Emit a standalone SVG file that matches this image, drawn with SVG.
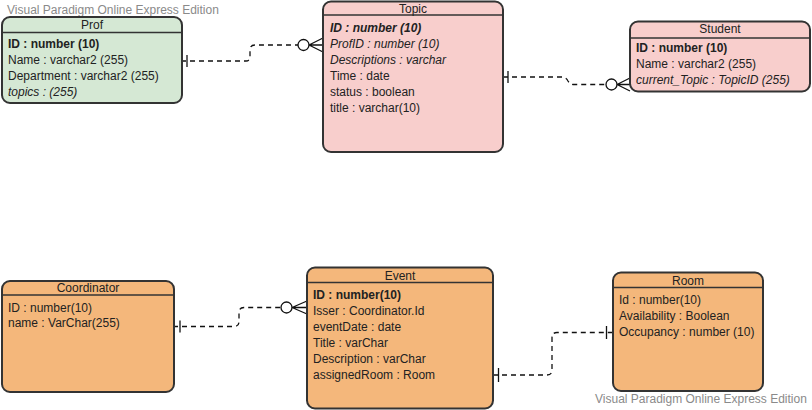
<svg xmlns="http://www.w3.org/2000/svg" width="812" height="410" viewBox="0 0 812 410">
<style>
text{font-family:"Liberation Sans",Arial,sans-serif;font-size:12px;fill:#222}
.t{text-anchor:middle}
.b{font-weight:bold}
.i{font-style:italic}
.wm{fill:#8a8a8a}
.box{stroke:#333;stroke-width:2}
.hl{stroke:#333;stroke-width:1.5}
.green{fill:#d5e8d4}
.pink{fill:#f8cecc}
.orange{fill:#f4b77b}
.c{fill:none;stroke:#111;stroke-width:1.3;stroke-dasharray:5,4}
.m{fill:none;stroke:#111;stroke-width:1.3}
.mc{fill:#fff;stroke:#111;stroke-width:1.3}
</style>
<rect width="812" height="410" fill="#fff"/>
<text class="wm" x="7" y="14">Visual Paradigm Online Express Edition</text>
<text class="wm" x="595" y="403">Visual Paradigm Online Express Edition</text>

<g id="connectors">
  <g id="prof-topic">
    <path class="c" d="M181,61 H246 Q250,61 250,56 V50 Q250,45 255,45 H298"/>
    <path class="m" d="M187,55 V67"/>
    <circle class="mc" cx="303.5" cy="45" r="5.5"/>
    <path class="m" d="M309,45 L323,38 M309,45 H323 M309,45 L323,52"/>
  </g>
  <g id="topic-student">
    <path class="c" d="M503,77 H562 Q566,77 568,81 Q570,84.5 574,84.5 H606"/>
    <path class="m" d="M508,71 V83"/>
    <circle class="mc" cx="611.5" cy="84.5" r="5.5"/>
    <path class="m" d="M617,84.5 L630,78 M617,84.5 H630 M617,84.5 L630,91"/>
  </g>
  <g id="coordinator-event">
    <path class="c" d="M173,326.5 H234 Q239,326.5 239,321.5 V312.5 Q239,307.5 244,307.5 H281"/>
    <path class="m" d="M180,320.5 V332.5"/>
    <circle class="mc" cx="286.5" cy="307.5" r="5.5"/>
    <path class="m" d="M292,307.5 L307,301 M292,307.5 H307 M292,307.5 L307,314"/>
  </g>
  <g id="event-room">
    <path class="c" d="M493,375 H547 Q552,375 552,370 V338 Q552,332.5 557,332.5 H613"/>
    <path class="m" d="M498.5,368 V382"/>
    <path class="m" d="M606.5,326 V339"/>
  </g>
</g>

<g id="Prof">
  <rect class="box green" x="2" y="17" width="180" height="86" rx="8"/>
  <line class="hl" x1="2" y1="32.5" x2="182" y2="32.5"/>
  <text class="t" x="92" y="29">Prof</text>
  <text class="b" x="8" y="48">ID : number (10)</text>
  <text x="8" y="64">Name : varchar2 (255)</text>
  <text x="8" y="80">Department : varchar2 (255)</text>
  <text class="i" x="8" y="96">topics : (255)</text>
</g>

<g id="Topic">
  <rect class="box pink" x="323" y="1.5" width="180" height="150.5" rx="8"/>
  <line class="hl" x1="323" y1="15" x2="503" y2="15"/>
  <text class="t" x="413" y="13">Topic</text>
  <text class="b i" x="330" y="32">ID : number (10)</text>
  <text class="i" x="330" y="48">ProfID : number (10)</text>
  <text class="i" x="330" y="64">Descriptions : varchar</text>
  <text x="330" y="80">Time : date</text>
  <text x="330" y="96">status : boolean</text>
  <text x="330" y="112">title : varchar(10)</text>
</g>

<g id="Student">
  <rect class="box pink" x="630" y="21.5" width="180" height="70" rx="8"/>
  <line class="hl" x1="630" y1="38" x2="810" y2="38"/>
  <text class="t" x="720" y="33">Student</text>
  <text class="b" x="636" y="52">ID : number (10)</text>
  <text x="636" y="68">Name : varchar2 (255)</text>
  <text class="i" x="636" y="84">current_Topic : TopicID (255)</text>
</g>

<g id="Coordinator">
  <rect class="box orange" x="2" y="281" width="172" height="111" rx="8"/>
  <line class="hl" x1="2" y1="295" x2="174" y2="295"/>
  <text class="t" x="88" y="291.5">Coordinator</text>
  <text x="8" y="311.5">ID : number(10)</text>
  <text x="8" y="327">name : VarChar(255)</text>
</g>

<g id="Event">
  <rect class="box orange" x="307" y="267.5" width="186" height="141" rx="8"/>
  <line class="hl" x1="307" y1="282.5" x2="493" y2="282.5"/>
  <text class="t" x="400" y="280">Event</text>
  <text class="b" x="313" y="299">ID : number(10)</text>
  <text x="313" y="315">Isser : Coordinator.Id</text>
  <text x="313" y="331">eventDate : date</text>
  <text x="313" y="347">Title : varChar</text>
  <text x="313" y="363">Description : varChar</text>
  <text x="313" y="379">assignedRoom : Room</text>
</g>

<g id="Room">
  <rect class="box orange" x="613" y="272.5" width="150" height="118.5" rx="8"/>
  <line class="hl" x1="613" y1="287.5" x2="763" y2="287.5"/>
  <text class="t" x="688" y="285">Room</text>
  <text x="619" y="304">Id : number(10)</text>
  <text x="619" y="320">Availability : Boolean</text>
  <text x="619" y="336">Occupancy : number (10)</text>
</g>
</svg>
